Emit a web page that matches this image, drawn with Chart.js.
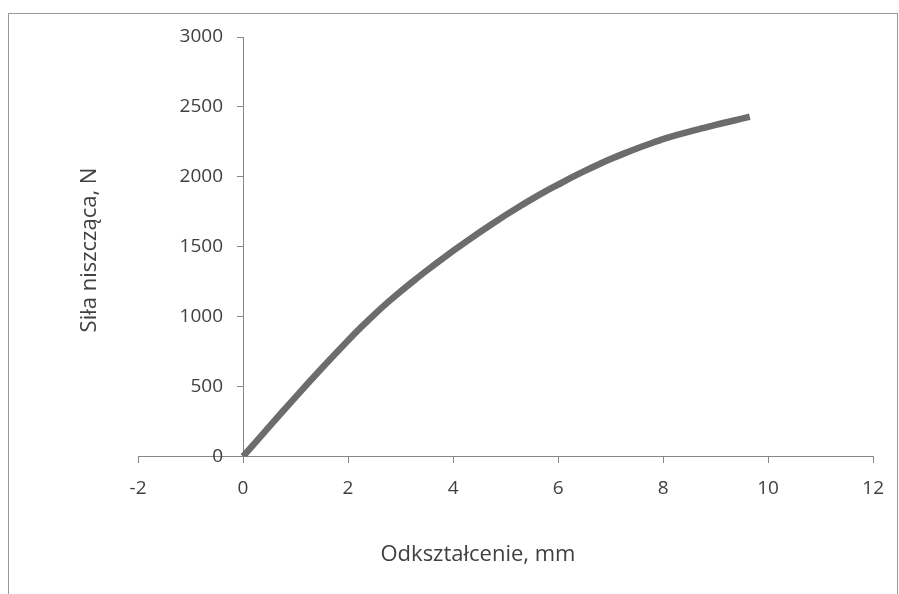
<!DOCTYPE html>
<html>
<head>
<meta charset="utf-8">
<script src="https://cdn.jsdelivr.net/npm/chart.js@4"></script>
<style>
  html, body { margin: 0; padding: 0; background: #fff; }
  #wrap { position: relative; width: 899px; height: 594px; }
  #frame { position: absolute; left: 8px; top: 13px; width: 888px; height: 590px;
           border: 1px solid #9a9a9a; border-bottom: none; pointer-events: none; }
</style>
</head>
<body>
<div id="wrap">
  <canvas id="chart" width="899" height="594"></canvas>
  <div id="frame"></div>
</div>
<script>
// --- DATA ---
const deformation = [0, 0.25, 0.5, 0.75, 1.0, 1.25, 1.5, 1.75, 2.0, 2.25, 2.5, 2.75, 3.0, 3.25,
    3.5, 3.75, 4.0, 4.25, 4.5, 4.75, 5.0, 5.25, 5.5, 5.75, 6.0, 6.25, 6.5, 6.75, 7.0, 7.25,
    7.5, 7.75, 8.0, 8.25, 8.5, 8.75, 9.0, 9.25, 9.5, 9.65];
const force = [0, 107, 214, 320, 425, 529, 631, 731, 830, 925, 1015, 1100, 1180, 1256,
    1330, 1401, 1470, 1537, 1602, 1665, 1726, 1785, 1841, 1894, 1944, 1994, 2041, 2085, 2127, 2166,
    2203, 2237, 2270, 2298, 2324, 2348, 2372, 2394, 2416, 2430];
const xTicks = [-2, 0, 2, 4, 6, 8, 10, 12];
const yTicks = [0, 500, 1000, 1500, 2000, 2500, 3000];
const xTitle = 'Odkształcenie, mm';
const yTitle = 'Siła niszcząca, N';

const FONT = '"Open Sans", "DejaVu Sans", sans-serif';
const AXIS_COLOR = '#878787';
const TEXT_COLOR = '#404040';

// axis titles drawn where the reference has them (not centred on the plot)
const axisTitlesPlugin = {
    id: 'axisTitles',
    afterDraw(chart) {
        const ctx = chart.ctx;
        ctx.save();
        ctx.fillStyle = TEXT_COLOR;
        ctx.font = '22px ' + FONT;
        ctx.textAlign = 'center';
        ctx.textBaseline = 'middle';
        ctx.fillText(xTitle, 478, 555);
        ctx.translate(90, 250);
        ctx.rotate(-Math.PI / 2);
        ctx.fillText(yTitle, 0, 0);
        ctx.restore();
    }
};

const points = deformation.map((x, i) => ({ x: x, y: force[i] }));
const yRange = { min: yTicks[0], max: yTicks[yTicks.length - 1] };
const setYTicks = s => { s.ticks = yTicks.map(v => ({ value: v })); };

new Chart(document.getElementById('chart'), {
    type: 'scatter',
    data: {
        datasets: [{
            data: points,
            yAxisID: 'y',
            showLine: true,
            borderColor: '#6c6c6c',
            borderWidth: 6.5,
            pointRadius: 0,
            cubicInterpolationMode: 'monotone'
        }]
    },
    options: {
        responsive: false,
        animation: false,
        layout: { padding: { left: 138, right: 23, top: 37, bottom: 137.5 } },
        plugins: { legend: { display: false }, tooltip: { enabled: false } },
        scales: {
            x: {
                type: 'linear',
                position: { y: 0 },
                min: xTicks[0],
                max: xTicks[xTicks.length - 1],
                afterBuildTicks: s => { s.ticks = xTicks.map(v => ({ value: v })); },
                grid: { drawOnChartArea: false, drawTicks: true, tickLength: 6, color: AXIS_COLOR },
                border: { color: AXIS_COLOR, width: 1 },
                ticks: { color: TEXT_COLOR, font: { family: FONT, size: 19 }, padding: 15, maxRotation: 0 }
            },
            // axis line and tick marks, crossing the x axis at 0
            y: {
                type: 'linear',
                position: { x: 0 },
                ...yRange,
                afterBuildTicks: setYTicks,
                grid: { drawOnChartArea: false, drawTicks: true, tickLength: 6, color: AXIS_COLOR },
                border: { color: AXIS_COLOR, width: 1 },
                ticks: { display: false }
            },
            // tick labels only, set a little to the left of the axis line
            yLabels: {
                type: 'linear',
                position: { x: -0.38 },
                ...yRange,
                afterBuildTicks: setYTicks,
                grid: { display: false },
                border: { display: false },
                ticks: { color: TEXT_COLOR, font: { family: FONT, size: 19 }, callback: v => String(v) }
            }
        }
    },
    plugins: [axisTitlesPlugin]
});
</script>
</body>
</html>
